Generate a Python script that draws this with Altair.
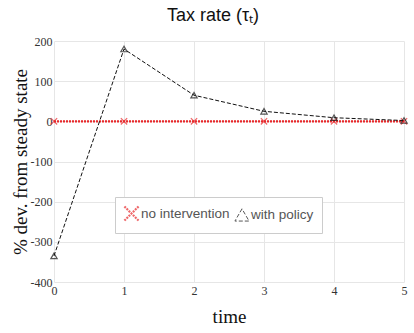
import altair as alt
import pandas as pd

time = [0, 1, 2, 3, 4, 5]
no_intervention = [0, 0, 0, 0, 0, 0]
with_policy = [-335, 180, 65, 25, 9, 2]
series_names = ["no intervention", "with policy"]

df = pd.DataFrame({
    "time": time * 2,
    "value": no_intervention + with_policy,
    "series": [series_names[0]] * len(time) + [series_names[1]] * len(time),
})

color_scale = alt.Scale(domain=series_names, range=["#e8282b", "#111111"])
shape_scale = alt.Scale(domain=series_names,
                        range=["M-1,-1L1,1M1,-1L-1,1", "triangle-up"])

legend = alt.Legend(orient="none", legendX=61, legendY=156, direction="horizontal",
                    title=None, labelFont="Liberation Sans", labelFontSize=13.5,
                    labelColor="#555", strokeColor="#cccccc", fillColor="white",
                    padding=8, symbolSize=200, columnPadding=2, labelOffset=1,
                    symbolStrokeWidth=1.2)

x = alt.X("time:Q", title="time",
          scale=alt.Scale(domain=[0, 5], nice=False),
          axis=alt.Axis(values=time, format="d", grid=True, domain=False, ticks=False,
                        labelFont="Liberation Serif", labelFontSize=12, labelColor="#333",
                        labelPadding=3, titleFont="Liberation Serif", titleFontSize=19,
                        titleFontWeight="normal", titleColor="#111", titlePadding=11,
                        labelFlush=False, gridColor="#e6e6e6"))
y = alt.Y("value:Q", title="% dev. from steady state",
          scale=alt.Scale(domain=[-400, 200], nice=False),
          axis=alt.Axis(values=[-400, -300, -200, -100, 0, 100, 200], grid=True, domain=False,
                        ticks=False, labelExpr="'' + datum.value",
                        labelFont="Liberation Serif", labelFontSize=12, labelColor="#333",
                        labelPadding=2, titleFont="Liberation Serif", titleFontSize=19,
                        titleFontWeight="normal", titleColor="#111", titlePadding=0,
                        gridColor="#e6e6e6"))

color = alt.Color("series:N", scale=color_scale, title=None, legend=legend)
shape = alt.Shape("series:N", scale=shape_scale, title=None, legend=legend)

lines = alt.Chart(df).mark_line().encode(
    x=x, y=y,
    color=color,
    strokeDash=alt.StrokeDash("series:N", scale=alt.Scale(domain=series_names, range=[[2, 1], [4, 2]]), legend=None),
    strokeWidth=alt.StrokeWidth("series:N", scale=alt.Scale(domain=series_names, range=[2.2, 1]), legend=None),
)

points = alt.Chart(df).mark_point(filled=False, size=40, strokeWidth=1.2).encode(
    x=x, y=y,
    color=color,
    shape=shape,
)

chart = (lines + points).properties(
    width=350, height=241,
    title=alt.TitleParams("Tax rate (τₜ)", font="Liberation Sans", fontSize=18,
                          fontWeight="normal", color="#111", offset=10, dx=-16),
    autosize=alt.AutoSizeParams(type="none"),
    padding={"left": 54, "top": 41, "right": 10, "bottom": 51},
).configure_view(stroke=None)

chart.save("out.html", embed_options={"renderer": "svg", "actions": False})
